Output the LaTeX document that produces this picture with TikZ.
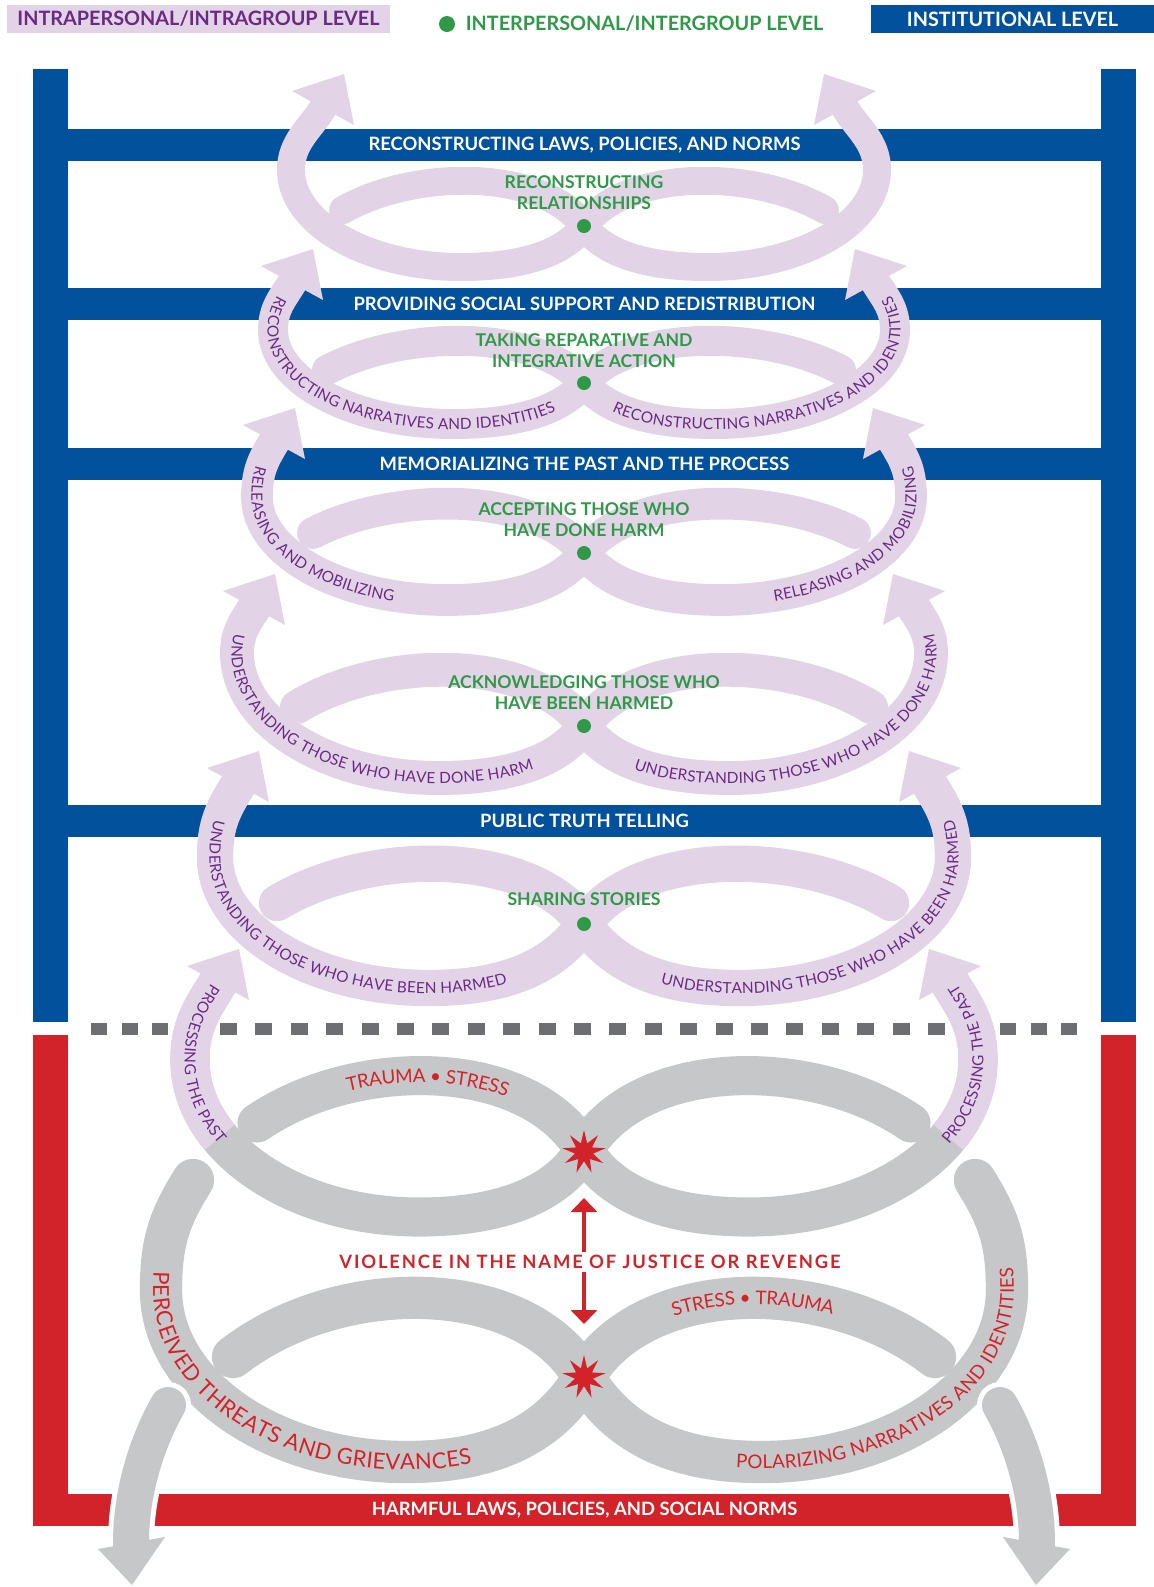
\documentclass[tikz,border=0pt]{standalone}
\usepackage{fontspec}
\setmainfont{Lato}
\usepackage{xcolor}
\definecolor{Institution Blue}{HTML}{02519C}
\definecolor{Soft Lilac}{HTML}{E2D4E6}
\definecolor{Deep Plum}{HTML}{6A2A84}
\definecolor{Link Green}{HTML}{2E9A48}
\definecolor{Harm Red}{HTML}{D2232A}
\definecolor{Ash Grey}{HTML}{C6C7C9}
\definecolor{Slate}{HTML}{6D6E71}
\colorlet{cBlue}{Institution Blue}
\colorlet{cLilac}{Soft Lilac}
\colorlet{cPlum}{Deep Plum}
\colorlet{cGreen}{Link Green}
\colorlet{cRed}{Harm Red}
\colorlet{cGrey}{Ash Grey}
\colorlet{cDash}{Slate}
\usepackage{tikz}
\usetikzlibrary{calc, arrows.meta, decorations.text, shapes.geometric, positioning}

\newcommand{\curvefont}{\fontsize{7.7}{9}\selectfont\color{cPlum}}
\newcommand{\threatfont}{\fontsize{11}{13}\selectfont\color{cRed}}
\newcommand{\polarfont}{\fontsize{9.4}{11}\selectfont\color{cRed}}
\newcommand{\stressfont}{\fontsize{9.4}{11}\selectfont\color{cRed}}

% one loop of the spiral: centre y, side, side dy, bottom dy, inner end x/y, inner top dy, tip x/y
\newcommand{\setloop}[9]{%
	\def\lpCy{#1}\def\lpW{(#2)}\def\lpS{(#3)}\def\lpB{(#4)}%
	\def\lpEx{(#5)}\def\lpEy{(#6)}\def\lpTx{(#8)}\def\lpTy{(#9)}%
	\pgfmathsetmacro\lpQ{(8*(#7)-(#6))/6}%
	\pgfmathsetmacro\lpQn{((#6)-8*(#7))/6}%
	\pgfmathsetmacro\lpLw{0.5*(28+0.11*((#2)-293))}}
\newcommand{\loopcoords}[2]{%
	\coordinate (#2E)  at ({584-(#1)*\lpEx},{\lpCy+\lpEy});
	\coordinate (#2e1) at ({584-(#1)*0.7*\lpEx},{\lpCy+\lpQ});
	\coordinate (#2e2) at ({584-(#1)*0.17*\lpEx},{\lpCy+\lpQ});
	\coordinate (#2C)  at (584,\lpCy);
	\coordinate (#2c1) at ({584+(#1)*0.17*\lpEx*0.75*\lpB/\lpQn},{\lpCy+0.75*\lpB});
	\coordinate (#2c2) at ({584+(#1)*0.24*\lpW},{\lpCy+\lpB});
	\coordinate (#2B)  at ({584+(#1)*0.42*\lpW},{\lpCy+\lpB});
	\coordinate (#2b1) at ({584+(#1)*0.74*\lpW},{\lpCy+\lpB});
	\coordinate (#2b2) at ({584+(#1)*\lpW},{\lpCy+\lpS+0.55*(\lpB-\lpS)});
	\coordinate (#2S)  at ({584+(#1)*\lpW},{\lpCy+\lpS});
	\coordinate (#2s1) at ({584+(#1)*\lpW},{\lpCy+\lpS+0.45*(\lpTy+34-\lpS)});
	\coordinate (#2s2) at ({584+(#1)*(\lpTx+21+0.21*(\lpS-\lpTy-34))},{\lpCy+\lpTy+34+0.34*(\lpS-\lpTy-34)});
	\coordinate (#2M)  at ({584+(#1)*(\lpTx+21)},{\lpCy+\lpTy+34});
	\coordinate (#2T)  at ({584+(#1)*\lpTx},{\lpCy+\lpTy});
	\coordinate (#2L)  at ({584+(#1)*(\lpTx+52)},{\lpCy+\lpTy+17});
	\coordinate (#2R)  at ({584+(#1)*(\lpTx-10)},{\lpCy+\lpTy+51});}
\newcommand{\loopband}[2]{%
	\draw[#1] (#2E) .. controls (#2e1) and (#2e2) .. (#2C)
		.. controls (#2c1) and (#2c2) .. (#2B)
		.. controls (#2b1) and (#2b2) .. (#2S)
		.. controls (#2s1) and (#2s2) .. (#2M);}
\newcommand{\lilacloop}[1]{%
	\loopcoords{-1}{#1l}\loopcoords{1}{#1r}
	\loopband{lilac band}{#1l}\loopband{lilac band}{#1r}
	\fill[cLilac] (#1lT) -- (#1lL) -- (#1lR) -- cycle;
	\fill[cLilac] (#1rT) -- (#1rL) -- (#1rR) -- cycle;}
% text down the left side, text up the right side
\newcommand{\loopdowntext}[3]{%
	\path[decorate, decoration={text along path, #2, text={#3}}]
		(#1M) .. controls (#1s2) and (#1s1) .. (#1S)
		.. controls (#1b2) and (#1b1) .. (#1B)
		.. controls (#1c2) and (#1c1) .. (#1C);}
\newcommand{\loopuptext}[3]{%
	\path[decorate, decoration={text along path, #2, text={#3}}]
		(#1C) .. controls (#1c1) and (#1c2) .. (#1B)
		.. controls (#1b1) and (#1b2) .. (#1S)
		.. controls (#1s1) and (#1s2) .. (#1M);}

\tikzset{
	lilac band/.style={draw=cLilac, line width=\lpLw pt, line cap=round},
	grey band/.style={draw=cGrey, line width=\lpLw pt, line cap=round},
	level bar/.style={fill=cBlue, text=white, minimum width=516.5pt, minimum height=16pt,
		inner sep=0pt, font=\bfseries\fontsize{9.2}{10}\selectfont},
	harm bar/.style={level bar, fill=cRed, minimum width=551.5pt},
	stage/.style={text=cGreen, align=center, font=\bfseries\fontsize{8.8}{10.5}\selectfont},
	dot/.style={circle, fill=cGreen, inner sep=0pt, minimum size=7pt},
	burst/.style={star, star points=9, star point ratio=2.4, fill=cRed, inner sep=0pt, minimum size=22pt},
	key box/.style={inner sep=0pt, minimum height=14pt, font=\bfseries\fontsize{9.9}{11}\selectfont},
	red arrow/.style={draw=cRed, line width=2.2pt, -{Triangle[width=13pt, length=7pt]}},
	red halo/.style={draw=white, line width=2.2pt, shorten >=-1.6pt, -{Triangle[width=18pt, length=10pt]}},
	grey arrow/.style={draw=cGrey, line width=18pt, line cap=round},
	halo/.style={draw=white, line width=23pt, line cap=round},
	divider/.style={cDash, line width=6pt}
}

\begin{document}
\begin{tikzpicture}[x=0.5pt, y=-0.5pt]
	\useasboundingbox (0,0) rectangle (1154,1587);
	% frames
	\fill[cBlue] (33,69) rectangle (68,1022);
	\fill[cBlue] (1101,69) rectangle (1136,1022);
	\node[level bar] (bar1) at (584.5,145) {RECONSTRUCTING LAWS, POLICIES, AND NORMS};
	\node[level bar] (bar2) at (584.5,304) {PROVIDING SOCIAL SUPPORT AND REDISTRIBUTION};
	\node[level bar] (bar3) at (584.5,464) {MEMORIALIZING THE PAST AND THE PROCESS};
	\node[level bar] (bar4) at (584.5,821) {PUBLIC TRUTH TELLING};
	\fill[cRed] (33,1035) rectangle (68,1526);
	\fill[cRed] (1101,1035) rectangle (1136,1526);
	\node[harm bar] (harmbar) at (584.5,1510) {HARMFUL LAWS, POLICIES, AND SOCIAL NORMS};
	\draw[divider, dash pattern=on 8pt off 7.35pt] (91,1029) -- (169,1029);
	\draw[divider, dash pattern=on 8.5pt off 9.2pt] (220,1029) -- (948,1029);
	\draw[divider, dash pattern=on 8pt off 7.35pt] (1000,1029) -- (1078,1029);

	% loops
	\setloop{226}{293}{-56}{41}{241}{-16}{-45}{240}{-152}
	\lilacloop{u1}
	\setloop{383}{311}{-53}{41}{257}{-13}{-42}{271}{-134}
	\lilacloop{u2}
	\setloop{553}{327}{-56}{47}{271}{-20}{-49}{289}{-145}
	\lilacloop{u3}
	\setloop{726}{347}{-73}{52}{287}{-19}{-56}{309}{-152}
	\lilacloop{u4}
	\setloop{924}{369}{-67}{64}{307}{-21}{-60}{325}{-173}
	\lilacloop{u5}
	\setloop{1150}{394}{-90}{67}{327}{-27}{-74}{345}{-201}
	\loopcoords{-1}{u6l}\loopcoords{1}{u6r}
	\loopband{grey band}{u6l}\loopband{grey band}{u6r}
	\begin{scope}
		\clip (0,850) -- (400,850) -- (400,985) -- (0,1323) -- cycle;
		\draw[lilac band] (u6lM) .. controls (u6ls2) and (u6ls1) .. (u6lS) .. controls (u6lb2) and (u6lb1) .. (u6lB);
	\end{scope}
	\begin{scope}
		\clip (1168,850) -- (768,850) -- (768,985) -- (1168,1323) -- cycle;
		\draw[lilac band] (u6rM) .. controls (u6rs2) and (u6rs1) .. (u6rS) .. controls (u6rb2) and (u6rb1) .. (u6rB);
	\end{scope}
	\fill[cLilac] (u6lT) -- (u6lL) -- (u6lR) -- cycle;
	\fill[cLilac] (u6rT) -- (u6rL) -- (u6rR) -- cycle;
	\setloop{1377}{423}{-87}{85}{351}{-20}{-79}{370}{-231}
	\loopcoords{-1}{u7l}\loopcoords{1}{u7r}
	\loopband{grey band}{u7l}\loopband{grey band}{u7r}

	% texts along the loops
	\loopdowntext{u2l}{text align={left, left indent=9pt}, raise=-2.75pt}{|\curvefont|RECONSTRUCTING NARRATIVES AND IDENTITIES}
	\loopuptext{u2r}{text align={right, right indent=9pt}, raise=-2.75pt}{|\curvefont|RECONSTRUCTING NARRATIVES AND IDENTITIES}
	\loopdowntext{u3l}{text align={left, left indent=14pt}, raise=-2.75pt}{|\curvefont|RELEASING AND MOBILIZING}
	\loopuptext{u3r}{text align={right, right indent=14pt}, raise=-2.75pt}{|\curvefont|RELEASING AND MOBILIZING}
	\loopdowntext{u4l}{text align={left, left indent=15pt}, raise=-2.75pt}{|\curvefont|UNDERSTANDING THOSE WHO HAVE DONE HARM}
	\loopuptext{u4r}{text align={right, right indent=15pt}, raise=-2.75pt}{|\curvefont|UNDERSTANDING THOSE WHO HAVE DONE HARM}
	\loopdowntext{u5l}{text align={left, left indent=20pt}, raise=-2.75pt}{|\curvefont|UNDERSTANDING THOSE WHO HAVE BEEN HARMED}
	\loopuptext{u5r}{text align={right, right indent=20pt}, raise=-2.75pt}{|\curvefont|UNDERSTANDING THOSE WHO HAVE BEEN HARMED}
	\loopdowntext{u6l}{text align={left, left indent=2pt}, raise=-2.75pt}{|\curvefont|PROCESSING THE PAST}
	\loopuptext{u6r}{text align={right, right indent=2pt}, raise=-2.75pt}{|\curvefont|PROCESSING THE PAST}
	\loopdowntext{u7l}{text align={left, left indent=49pt}, raise=-3.9pt}{|\threatfont|PERCEIVED THREATS AND GRIEVANCES}
	\loopuptext{u7r}{text align={right, right indent=47pt}, raise=-3.4pt}{|\polarfont|POLARIZING NARRATIVES AND IDENTITIES}
	\path[decorate, decoration={text along path, text align=center, raise=-3.4pt, text={|\stressfont|TRAUMA • STRESS}}]
		(u6rE) .. controls (u6re1) and (u6re2) .. (u6rC);
	\path[decorate, decoration={text along path, text align=center, raise=-3.4pt, text={|\stressfont|STRESS • TRAUMA}}]
		(u7lC) .. controls (u7le2) and (u7le1) .. (u7lE);

	% relationship stages
	\node[dot] (d1) at (584,226) {};
	\node[dot] (d2) at (584,383) {};
	\node[dot] (d3) at (584,553) {};
	\node[dot] (d4) at (584,726) {};
	\node[dot] (d5) at (584,924) {};
	\node[stage] (s1) at (584,193) {RECONSTRUCTING\\RELATIONSHIPS};
	\node[stage] (s2) at (584,351) {TAKING REPARATIVE AND\\INTEGRATIVE ACTION};
	\node[stage] (s3) at (584,520) {ACCEPTING THOSE WHO\\HAVE DONE HARM};
	\node[stage] (s4) at (584,693) {ACKNOWLEDGING THOSE WHO\\HAVE BEEN HARMED};
	\node[stage] (s5) at (584,899) {SHARING STORIES};

	% violence
	\node[burst] (burst6) at (584,1152) {};
	\node[burst] (burst7) at (584,1377) {};
	\node[font=\bfseries\fontsize{9.2}{10}\selectfont\addfontfeature{LetterSpace=10}, text=cRed, inner sep=0pt]
		(violence) at (590,1262) {VIOLENCE IN THE NAME OF JUSTICE OR REVENGE};
	\coordinate (upfoot) at (584,1252);
	\coordinate (uptip) at (584,1198);
	\coordinate (downfoot) at (584,1272);
	\coordinate (downtip) at (584,1324);
	\draw[red halo] (upfoot) -- (uptip);
	\draw[red halo] (downfoot) -- (downtip);
	\draw[red arrow] (upfoot) -- (uptip);
	\draw[red arrow] (downfoot) -- (downtip);

	% spill-over arrows
	\coordinate (lstart) at (168,1405);
	\coordinate (lbase) at (131,1543);
	\coordinate (rstart) at (1000,1405);
	\coordinate (rbase) at (1037,1543);
	\draw[halo] (lstart) .. controls (148,1440) and (131,1490) .. (lbase);
	\draw[halo] (rstart) .. controls (1020,1440) and (1037,1490) .. (rbase);
	\filldraw[white, line width=4pt, line join=round] (132,1585) -- (98,1549) -- (165,1537) -- cycle;
	\filldraw[white, line width=4pt, line join=round] (1036,1585) -- (1070,1549) -- (1003,1537) -- cycle;
	\draw[grey arrow] (lstart) .. controls (148,1440) and (131,1490) .. (lbase);
	\draw[grey arrow] (rstart) .. controls (1020,1440) and (1037,1490) .. (rbase);
	\fill[cGrey] (132,1585) -- (98,1549) -- (165,1537) -- cycle;
	\fill[cGrey] (1036,1585) -- (1070,1549) -- (1003,1537) -- cycle;

	% key
	\node[key box, fill=cLilac, text=cPlum, minimum width=191.5pt] (intra) at (198.5,19) {INTRAPERSONAL/INTRAGROUP LEVEL};
	\node[dot, minimum size=8pt] (interdot) at (447,24) {};
	\node[key box, text=cGreen, right=5pt of interdot] (inter) {INTERPERSONAL/INTERGROUP LEVEL};
	\node[key box, fill=cBlue, text=white, minimum width=141.5pt] (inst) at (1012.5,19) {INSTITUTIONAL LEVEL};
\end{tikzpicture}
\end{document}
